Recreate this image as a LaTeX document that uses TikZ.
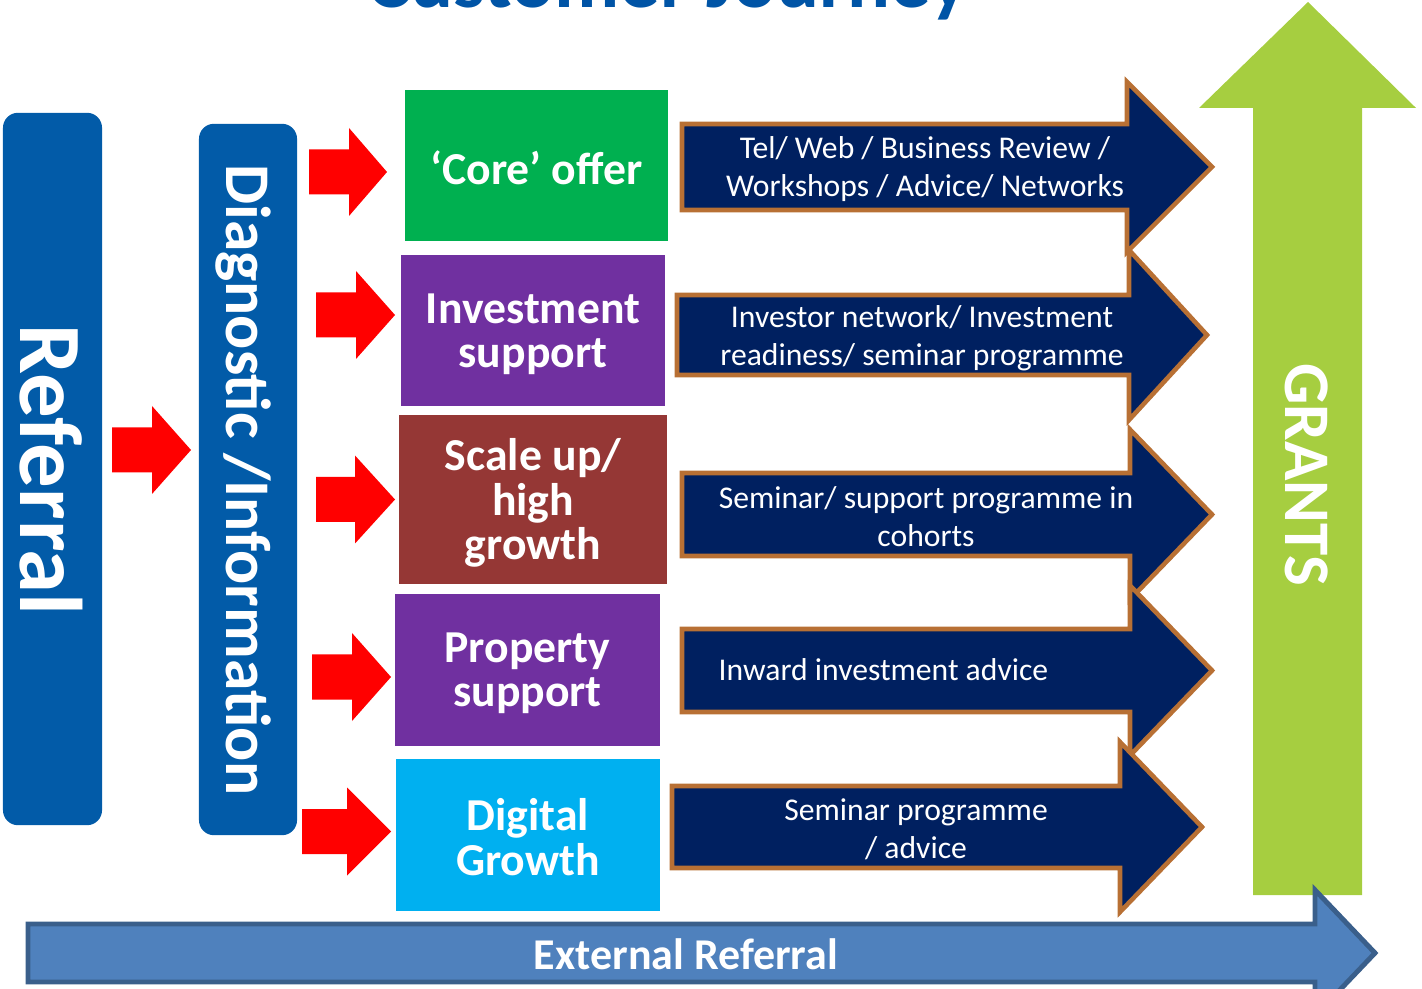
\documentclass[tikz,border=0pt]{standalone}
\usepackage{fontspec}
\setmainfont{Carlito}
\definecolor{titleblue}{RGB}{0,84,166}
\definecolor{boxblue}{RGB}{2,91,168}
\definecolor{arrred}{RGB}{255,0,0}
\definecolor{coregreen}{RGB}{0,176,80}
\definecolor{purp}{RGB}{112,48,160}
\definecolor{brownred}{RGB}{149,55,53}
\definecolor{cyanb}{RGB}{0,176,240}
\definecolor{navy}{RGB}{0,32,96}
\definecolor{copper}{RGB}{184,112,52}
\definecolor{grantgreen}{RGB}{166,206,64}
\definecolor{extfill}{RGB}{79,129,189}
\definecolor{extline}{RGB}{58,95,139}
\tikzset{
  redarrow/.style={fill=arrred},
  navyarrow/.style={fill=navy, draw=copper, line width=1.3pt, line join=miter},
  navytext/.style={text=white, align=center, inner sep=0, font=\fontsize{9pt}{10.8pt}\selectfont},
  offerbox/.style={inner sep=0, text=white, align=center, font=\bfseries\fontsize{13pt}{12.6pt}\selectfont},
  offertext/.style={inner sep=0, text=white, align=center, font=\bfseries\fontsize{13pt}{12.6pt}\selectfont},
  bigtext/.style={text=white, inner sep=0, anchor=base, font=\bfseries},
}
\newcommand{\redarr}[4]{\fill[redarrow] (#1,#4-22.5) -- (#2,#4-22.5) -- (#2,#4-44) -- (#3,#4) -- (#2,#4+44) -- (#2,#4+22.5) -- (#1,#4+22.5) -- cycle;}
\newcommand{\navyarr}[6]{\filldraw[navyarrow] (#1,#2) -- (#4,#2) -- (#4,#6-85) -- (#5,#6) -- (#4,#6+85) -- (#4,#3) -- (#1,#3) -- cycle;}
\begin{document}
\begin{tikzpicture}[x=0.01cm,y=-0.01cm]
\useasboundingbox (0,0) rectangle (1422,989);
\begin{scope}
\clip (0,0) rectangle (1422,989);
% title (cut off at top, as in the reference)
\node[anchor=base, text=titleblue, inner sep=0, font=\bfseries\fontsize{22.8pt}{27pt}\selectfont] (title) at (668,8) {Customer Journey};

% left columns
\node[fill=boxblue, rounded corners=0.15cm, minimum width=0.99cm, minimum height=7.12cm, inner sep=0] (referral) at (52.5,469) {};
\node[bigtext, rotate=-90, font=\bfseries\fontsize{25.3pt}{30pt}\selectfont] (referraltext) at (21,470) {Referral};
\node[fill=boxblue, rounded corners=0.15cm, minimum width=0.98cm, minimum height=7.11cm, inner sep=0] (diag) at (248,479.5) {};
\node[bigtext, rotate=-90, font=\bfseries\fontsize{18.1pt}{21pt}\selectfont] (diagtext) at (226,480) {Diagnostic /Information};

% red arrows
\redarr{112}{152}{191}{450}
\redarr{309}{349}{387}{172}
\redarr{316}{356}{395}{315}
\redarr{316}{355}{395}{499.5}
\redarr{312}{352}{391}{677}
\redarr{302}{347}{391}{831.5}

% offer boxes
\node[fill=coregreen, minimum width=2.63cm, minimum height=1.51cm, inner sep=0] (core) at (536.5,165.5) {};
\node[offertext] (coretext) at (536.5,168) {‘Core’ offer};
\node[fill=purp, minimum width=2.64cm, minimum height=1.51cm, inner sep=0] (invest) at (533,330.5) {};
\node[offertext] (investtext) at (533,334) {Investment\\support};
\node[fill=brownred, minimum width=2.68cm, minimum height=1.69cm, inner sep=0] (scale) at (533,499.5) {};
\node[offertext] (scaletext) at (533,503) {Scale up/\\high\\growth};
\node[fill=purp, minimum width=2.65cm, minimum height=1.52cm, inner sep=0] (property) at (527.5,670) {};
\node[offertext] (propertytext) at (527.5,673.5) {Property\\support};
\node[fill=cyanb, minimum width=2.64cm, minimum height=1.52cm, inner sep=0] (digital) at (528,835) {};
\node[offertext] (digitaltext) at (528,837) {Digital\\Growth};

% navy arrows
\navyarr{682}{124}{210}{1127}{1212}{167}
\node[navytext] (t1) at (925,169.5) {Tel/ Web / Business Review /\\Workshops / Advice/ Networks};
\navyarr{677}{295}{375}{1129}{1207}{335}
\node[navytext] (t2) at (922,338) {Investor network/ Investment\\readiness/ seminar programme};
\navyarr{682}{473}{556}{1130}{1212}{514.5}
\node[navytext] (t3) at (926,517) {Seminar/ support programme in\\cohorts};
\navyarr{682}{629}{712}{1130}{1212}{670.5}
\node[navytext, anchor=base west] (t4) at (718,681) {Inward investment advice};
\navyarr{672}{786}{868}{1120}{1202}{827}
\node[navytext] (t5) at (916,829) {Seminar programme\\/ advice};

% GRANTS arrow
\fill[grantgreen] (1253,895) -- (1253,108) -- (1199,108) -- (1308,2) -- (1416,108) -- (1362,108) -- (1362,895) -- cycle;
\node[bigtext, rotate=-90, font=\bfseries\fontsize{18.5pt}{22pt}\selectfont] (grants) at (1285,475) {GRANTS};

% External referral arrow
\filldraw[fill=extfill, draw=extline, line width=1.4pt] (28,924) -- (1315,924) -- (1315,890) -- (1375,953) -- (1315,1016) -- (1315,982) -- (28,982) -- cycle;
\node[bigtext, font=\bfseries\fontsize{12.5pt}{15pt}\selectfont] (ext) at (686,969) {External Referral};
\end{scope}
\end{tikzpicture}
\end{document}
